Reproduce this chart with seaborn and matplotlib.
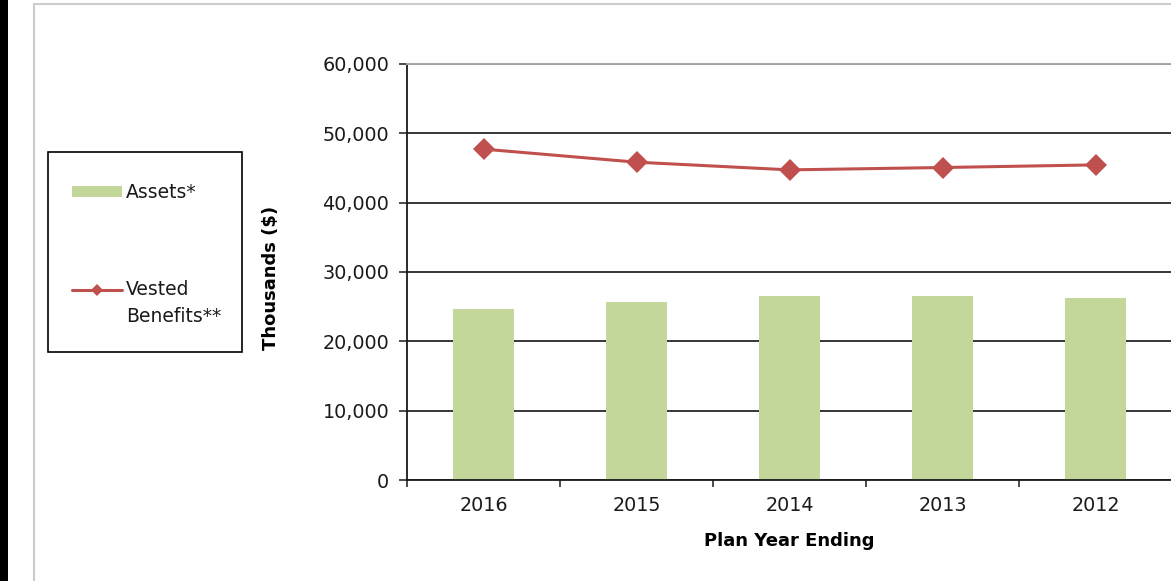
import numpy as np
import matplotlib
matplotlib.use("Agg")
import matplotlib.pyplot as plt
import seaborn as sns
from matplotlib.patches import Patch, Rectangle
from matplotlib.lines import Line2D
from matplotlib.legend_handler import HandlerLine2D
from matplotlib.ticker import FuncFormatter, FixedLocator

# ---- data -------------------------------------------------------------
years = ["2016", "2015", "2014", "2013", "2012"]
assets = [24630, 25730, 26600, 26600, 26310]
vested_benefits = [47720, 45840, 44730, 45070, 45450]
y_ticks = [0, 10000, 20000, 30000, 40000, 50000, 60000]
series_labels = ["Assets*", "Vested\nBenefits**"]
x_title = "Plan Year Ending"
y_title = "Thousands ($)"

# ---- style ------------------------------------------------------------
BAR_GREEN = "#c4d79b"
LINE_RED = "#c0504d"
TEXT = "#1a1a1a"
W, H = 1171, 581

sns.set_theme(style="white")
plt.rcParams["font.family"] = ["DejaVu Sans"]


class FirstLineHandler(HandlerLine2D):
    """Line handle aligned with the first line of a multi-line label."""

    def __init__(self, shift, **kw):
        super().__init__(**kw)
        self.shift = shift

    def create_artists(self, legend, orig_handle, xdescent, ydescent,
                       width, height, fontsize, trans):
        arts = super().create_artists(legend, orig_handle, xdescent, ydescent,
                                      width, height, fontsize, trans)
        for a in arts:
            a.set_ydata(np.asarray(a.get_ydata(), dtype=float) + self.shift)
        return arts


fig = plt.figure(figsize=(W / 100, H / 100), dpi=100)
ax = fig.add_axes([407 / W, 1 - 480 / H, 765 / W, 416 / H])

sns.barplot(x=years, y=assets, color=BAR_GREEN, width=0.4, saturation=1,
            edgecolor="none", ax=ax, zorder=2)
sns.pointplot(x=years, y=vested_benefits, color=LINE_RED, marker="D",
              markersize=11.5, markeredgewidth=0, linewidth=2.2,
              errorbar=None, ax=ax, zorder=3)

ax.set_xlim(-0.5, len(years) - 0.5)
ax.set_ylim(y_ticks[0], y_ticks[-1])
ax.yaxis.set_major_locator(FixedLocator(y_ticks))
ax.yaxis.set_major_formatter(FuncFormatter(lambda v, p: f"{int(v):,}"))

# gridlines behind the bars
ax.set_axisbelow(True)
ax.yaxis.grid(True, color="#262626", linewidth=1.3)
ax.xaxis.grid(False)

for side in ("left", "bottom"):
    ax.spines[side].set_color("#1a1a1a")
    ax.spines[side].set_linewidth(1.3)
ax.spines["right"].set_visible(False)
ax.spines["top"].set_color("#a6a6a6")
ax.spines["top"].set_linewidth(1.4)

# category boundary ticks on x, labels centred
ax.set_xticks(np.arange(-0.5, len(years)), minor=True)
ax.tick_params(axis="x", which="minor", direction="out", length=5.2,
               width=1.1, color="#1a1a1a", bottom=True)
ax.tick_params(axis="x", which="major", length=0, pad=11.5,
               labelsize=13.8, labelcolor=TEXT)
ax.tick_params(axis="y", direction="out", length=5.8, width=1.1,
               color="#1a1a1a", pad=7, labelsize=13.8, labelcolor=TEXT, left=True)

ax.set_xlabel(x_title, fontsize=13, fontweight="bold", color="black")
ax.set_ylabel(y_title, fontsize=13, fontweight="bold", color="black")
ax.xaxis.set_label_coords(0.5, (480 - 532) / 416)
ax.xaxis.label.set_va("top")
ax.yaxis.set_label_coords((280 - 407) / 765, (480 - 278) / 416)

# legend entries (frame drawn separately as a fixed box)
handles = [
    Patch(facecolor=BAR_GREEN, edgecolor="none"),
    Line2D([], [], color=LINE_RED, lw=2.2, marker="D", markersize=6,
           markeredgewidth=0),
]
leg = fig.legend(
    handles, series_labels, loc="upper left",
    bbox_to_anchor=(72 / W, 1 - 183 / H), bbox_transform=fig.transFigure,
    frameon=False, fontsize=13.5, handlelength=2.67, handleheight=0.55,
    handletextpad=0.2, labelspacing=4.16, borderpad=0, borderaxespad=0,
    handler_map={handles[1]: FirstLineHandler(shift=10.4)},
)
for t in leg.get_texts():
    t.set_linespacing(1.5)
    t.set_color(TEXT)

fig.add_artist(Rectangle((48 / W, 1 - 352 / H), 194 / W, 200 / H,
                         transform=fig.transFigure, facecolor="none",
                         edgecolor="black", linewidth=1.2))

# page decoration: dark strip and light frame
fig.add_artist(Rectangle((0, 0), 8 / W, 1, transform=fig.transFigure,
                         facecolor="black", edgecolor="none"))
fig.add_artist(Rectangle((33.5 / W, -0.1), 1.2, 1.1 - 3.5 / H,
                         transform=fig.transFigure, facecolor="none",
                         edgecolor="#cccccc", linewidth=1.5))

fig.savefig("out.png", dpi=100)
